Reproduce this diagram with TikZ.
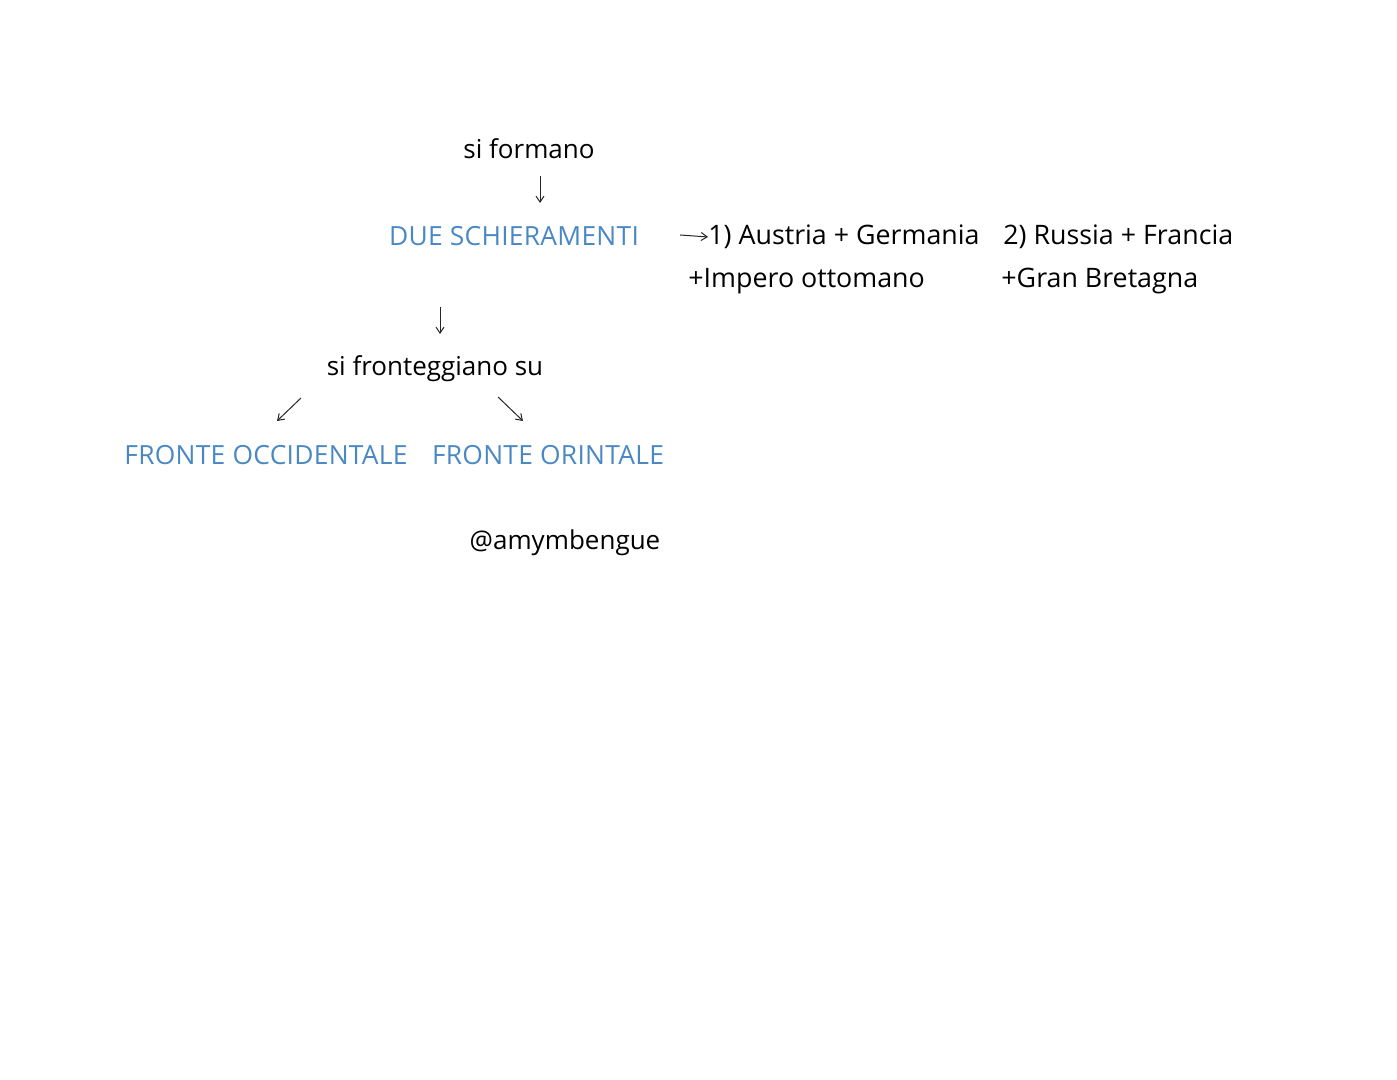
\documentclass[tikz,border=0pt]{standalone}
\usepackage{fontspec}
\setmainfont{Open Sans}
\usetikzlibrary{arrows.meta}
\definecolor{penblue}{HTML}{4A88C4}
\begin{document}
\begin{tikzpicture}[x=0.5pt,y=-0.5pt,
  txt/.style={inner sep=0pt,anchor=center,font=\fontsize{13}{15}\selectfont},
  grptxt/.style={txt,font=\fontsize{13.4}{15}\selectfont},
  bluetxt/.style={txt,text=penblue,font=\fontsize{13.2}{15}\selectfont\addfontfeature{LetterSpace=1}},
  arr/.style={-{Straight Barb[length=3pt,width=4pt]},line width=0.5pt,black!85}]
\useasboundingbox (0,0) rectangle (1397,1080);
\node[txt] (form) at (529,149) {si formano};
\node[bluetxt] (due) at (514,236) {DUE SCHIERAMENTI};
\node[grptxt,anchor=west] (g1) at (708,237) {1) Austria + Germania};
\node[grptxt,anchor=west] (g2) at (1003,237) {2) Russia + Francia};
\node[grptxt,anchor=west] (g1b) at (688,281) {+Impero ottomano};
\node[grptxt,anchor=west] (g2b) at (1001,281) {+Gran Bretagna};
\node[txt] (front) at (435,369) {si fronteggiano su};
\node[bluetxt] (occ) at (266,455) {FRONTE OCCIDENTALE};
\node[bluetxt] (ori) at (548,455) {FRONTE ORINTALE};
\node[txt] (tag) at (565,543) {@amymbengue};
\coordinate (a1s) at (540,176); \coordinate (a1e) at (540,203);
\draw[arr] (a1s) -- (a1e);
\coordinate (a2s) at (680,235);
\draw[arr] (a2s) -- (g1.west);
\coordinate (a3s) at (440,307); \coordinate (a3e) at (440,334);
\draw[arr] (a3s) -- (a3e);
\coordinate (a4s) at (301,398); \coordinate (a4e) at (277,421);
\draw[arr] (a4s) -- (a4e);
\coordinate (a5s) at (498,397); \coordinate (a5e) at (523,421);
\draw[arr] (a5s) -- (a5e);
\end{tikzpicture}
\end{document}
